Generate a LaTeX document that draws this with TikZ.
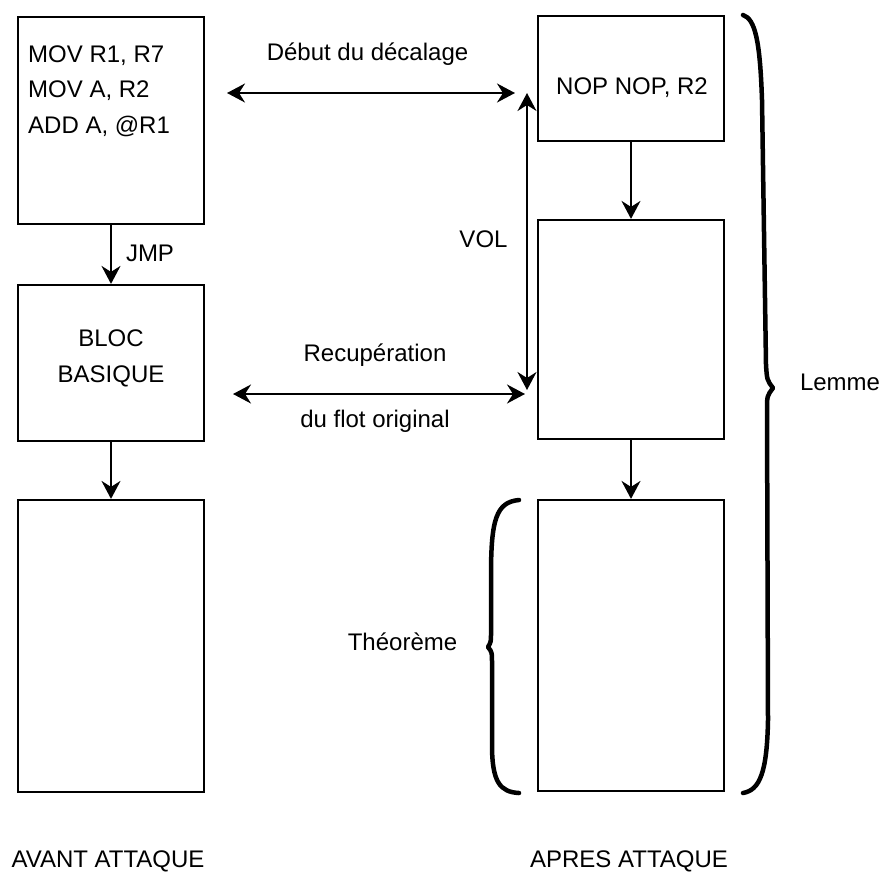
\documentclass[tikz,border=0pt]{standalone}
\usepackage{fontspec}
\setmainfont{Liberation Sans}
\usetikzlibrary{arrows.meta}
\tikzset{
  blk/.style={draw=black, line width=2.2pt, minimum width=186pt, inner sep=0pt},
  lbl/.style={inner sep=0pt, font=\fontsize{24}{35.5}\selectfont},
  tip/.style={},
  arr/.style={line width=2.2pt, -{Stealth[length=18pt,width=19pt,inset=6pt]}},
  darr/.style={line width=2.2pt, {Stealth[length=18pt,width=19pt,inset=6pt]}-{Stealth[length=18pt,width=19pt,inset=6pt]}},
  brc/.style={line width=4.5pt, line cap=round, line join=round}
}
\begin{document}
\begin{tikzpicture}[x=1pt,y=-1pt]
\useasboundingbox (0,0) rectangle (882,873);
% left column
\node[blk, minimum height=207pt] (A1) at (111,120.5) {};
\node[blk, minimum height=156pt] (A2) at (111,363) {};
\node[blk, minimum height=292pt] (A3) at (111,646) {};
% right column
\node[blk, minimum height=125pt] (B1) at (631,78.5) {};
\node[blk, minimum height=219pt] (B2) at (631,329.5) {};
\node[blk, minimum height=291pt] (B3) at (631,645.5) {};
% texts in boxes
\node[lbl, anchor=north west, align=left] (code) at (28,45.5) {MOV R1, R7\\MOV A, R2\\ADD A, @R1};
\node[lbl, anchor=north, align=center] (bloc) at (111,330) {BLOC\\BASIQUE};
\node[lbl, anchor=base] (nop) at (632,94.3) {NOP NOP, R2};
% vertical flow arrows
\draw[arr] (A1.south) -- (A2.north);
\draw[arr] (A2.south) -- (A3.north);
\draw[arr] (B1.south) -- (B2.north);
\draw[arr] (B2.south) -- (B3.north);
% free-end coordinates
\coordinate (d1) at (227,93);
\coordinate (d2) at (515,93);
\coordinate (r1) at (233,394);
\coordinate (r2) at (525,394);
\coordinate (v1) at (527,93);
\coordinate (v2) at (527,390);
\draw[darr] (d1) -- (d2);
\draw[darr] (r1) -- (r2);
\draw[darr] (v1) -- (v2);
% labels
\node[lbl, anchor=base] (jmp) at (150,261.7) {JMP};
\node[lbl, anchor=base] (debut) at (367.5,60) {Début du décalage};
\node[lbl, anchor=base] (recup) at (375,361.7) {Recupération};
\node[lbl, anchor=base] (flot) at (375,427) {du flot original};
\node[lbl, anchor=base] (vol) at (483.5,247.3) {VOL};
\node[lbl, anchor=base] (lemme) at (840,390) {Lemme};
\node[lbl, anchor=base] (theo) at (402.5,650) {Théorème};
\node[lbl, anchor=base] (avant) at (108,867.5) {AVANT ATTAQUE};
\node[lbl, anchor=base] (apres) at (629,867.5) {APRES ATTAQUE};
% braces
\draw[brc] (743,15) .. controls (755,19) and (760,40) .. (762,100)
  -- (766,365) .. controls (767,380) .. (773,388)
  .. controls (767,396) .. (767,410) -- (768,720)
  .. controls (767,772) and (760,790) .. (743,793);
\draw[brc] (519,500) .. controls (496,502) and (491,520) .. (491,575)
  -- (491,632) .. controls (491,642) .. (488,647)
  .. controls (492,652) .. (492,665) -- (492,745)
  .. controls (492,782) and (500,792) .. (519,793);
\end{tikzpicture}
\end{document}
